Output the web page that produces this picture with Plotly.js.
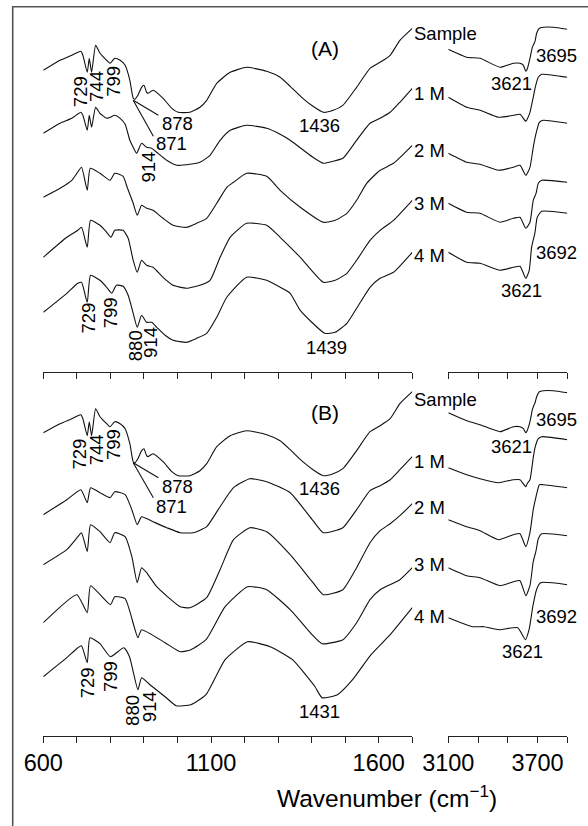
<!DOCTYPE html>
<html><head><meta charset="utf-8">
<script src="https://cdn.plot.ly/plotly-3.0.1.min.js"></script>
<style>html,body{margin:0;padding:0;background:#fff}</style>
</head><body><div id="chart" style="width:588px;height:826px"></div>
<script>
// ---------------- DATA (wavenumber cm-1, transmittance a.u. incl. stacking) ----------------
const lowTicks = [600,700,800,900,1000,1100,1200,1300,1400,1500,1600,1700];
const lowLabelTicks = [600,1100,1600];
const highTicks = [3100,3300,3500,3700,3900];
const highLabelTicks = [3100,3700];
const seriesNames = ['Sample','1 M','2 M','3 M','4 M'];

// Panel A
const A_Sample_lowX = [600,650,685,703,712,718,731,737,744,756,769,789,799,813,829,844,858,868,873,882,893,900,908,912,927,957,983,1002,1037,1067,1087,1117,1157,1206,1266,1306,1336,1370,1404,1435,1464,1493,1534,1574,1604,1634,1663,1700];
const A_Sample_lowY = [302,312,317,320,321,317,300,314,300,327,319,312,309,314,312,307,292,274,273,277,285,287,280,279,282,274,264,260,260,265,272,289,300,305,301,295,286,275,266,260,262,267,285,304,310,317,332,344];
const A_Sample_highX = [3100,3224,3313,3448,3537,3582,3605,3621,3630,3649,3665,3677,3683,3694,3712,3739,3806,3900];
const A_Sample_highY = [323,315,314,305,309,309,307,301,303,314,325,329,331,339,344,345,345,343];

const A_1M_lowX = [600,650,685,712,718,731,737,744,756,769,789,799,813,829,844,858,868,878,893,908,923,938,968,998,1037,1067,1097,1127,1157,1206,1266,1306,1336,1404,1435,1464,1493,1534,1574,1604,1634,1663,1700];
const A_1M_lowY = [239,249,254,260,257,242,257,245,265,259,254,255,257,254,248,232,225,219,229,225,224,220,212,207,208,210,217,232,242,247,244,238,232,215,209,211,214,232,249,254,260,270,284];
const A_1M_highX = [3100,3224,3313,3437,3537,3582,3621,3630,3649,3671,3683,3705,3728,3900];
const A_1M_highY = [275,265,262,255,257,258,251,253,260,275,284,295,298,295];

const A_2M_lowX = [600,650,685,700,714,731,740,769,799,813,838,850,868,880,893,908,927,957,987,1027,1057,1087,1117,1147,1167,1206,1266,1306,1366,1435,1470,1505,1534,1564,1604,1644,1700];
const A_2M_lowY = [175,184,192,199,205,182,204,199,192,199,196,185,169,157,167,164,162,154,147,145,149,154,169,185,190,199,196,182,165,150,152,159,172,189,202,209,227];
const A_2M_highX = [3100,3224,3313,3437,3537,3582,3621,3649,3671,3690,3712,3739,3900];
const A_2M_highY = [219,210,208,202,205,207,197,205,225,239,250,252,249];

const A_3M_lowX = [600,670,703,714,731,741,769,789,802,813,838,853,868,880,893,908,927,957,987,1027,1067,1097,1127,1157,1206,1266,1306,1366,1435,1470,1505,1534,1574,1604,1644,1700];
const A_3M_lowY = [115,135,142,145,125,152,147,140,135,142,142,134,112,100,112,107,105,95,87,84,87,92,115,135,149,147,135,115,90,92,99,112,132,142,152,172];
const A_3M_highX = [3100,3224,3313,3448,3537,3582,3621,3649,3671,3690,3705,3728,3900];
const A_3M_highY = [169,160,159,150,154,155,144,150,172,179,189,192,190];

const A_4M_lowX = [600,670,703,714,731,741,769,789,804,818,838,853,868,880,893,908,923,938,963,987,1027,1057,1087,1117,1147,1206,1266,1306,1336,1366,1439,1470,1505,1534,1574,1604,1644,1700];
const A_4M_lowY = [60,79,89,90,70,97,92,85,79,87,86,77,59,45,57,50,50,45,37,32,30,34,39,55,75,95,92,85,79,62,39,40,49,64,85,94,100,120];
const A_4M_highX = [3100,3224,3313,3448,3537,3582,3621,3644,3660,3683,3698,3728,3900];
const A_4M_highY = [120,110,109,102,105,106,94,102,125,140,155,161,159];

// Panel B
const B_Sample_lowX = [600,650,685,703,712,718,731,737,744,756,769,789,799,813,829,844,858,868,873,882,893,900,908,912,927,957,983,1002,1037,1067,1087,1117,1157,1206,1266,1306,1336,1370,1404,1435,1464,1493,1534,1574,1604,1634,1663,1700];
const B_Sample_lowY = [303,312,317,320,321,317,300,314,300,327,319,312,309,314,312,307,292,274,273,277,285,287,280,279,282,274,264,260,260,265,272,289,300,305,301,295,286,275,266,260,262,267,285,304,310,317,332,344];
const B_Sample_highX = [3100,3224,3313,3448,3537,3582,3605,3621,3630,3649,3665,3677,3683,3694,3712,3739,3806,3900];
const B_Sample_highY = [323,315,311,304,309,309,307,303,305,314,326,331,333,339,344,345,345,343];

const B_1M_lowX = [600,670,712,731,741,769,799,813,844,864,880,893,927,968,1008,1047,1087,1127,1167,1216,1266,1336,1404,1435,1493,1534,1574,1604,1634,1663,1700];
const B_1M_lowY = [221,236,246,233,248,243,238,244,241,226,211,219,214,208,203,203,209,229,248,257,254,243,215,203,208,226,245,250,256,266,279];
const B_1M_highX = [3100,3224,3313,3437,3537,3582,3621,3630,3649,3671,3683,3705,3728,3900];
const B_1M_highY = [268,261,257,253,256,256,249,252,256,278,288,297,299,296];

const B_2M_lowX = [600,670,703,714,731,741,769,799,813,844,864,880,893,908,938,1008,1037,1087,1127,1167,1216,1266,1336,1404,1435,1493,1534,1574,1604,1634,1663,1700];
const B_2M_lowY = [171,186,199,203,184,211,204,193,203,199,179,153,168,163,149,129,128,138,166,196,208,204,181,153,141,146,168,193,205,212,220,232];
const B_2M_highX = [3100,3224,3313,3437,3537,3582,3621,3649,3671,3690,3712,3739,3900];
const B_2M_highY = [216,209,205,196,201,202,189,203,226,239,251,251,248];

const B_3M_lowX = [600,700,731,741,800,813,844,882,893,963,1008,1040,1085,1142,1209,1266,1336,1404,1431,1493,1534,1574,1604,1663,1700];
const B_3M_lowY = [113,141,123,150,131,139,137,98,106,93,84,86,96,129,149,146,126,100,92,96,113,136,146,156,168];
const B_3M_highX = [3100,3224,3313,3448,3537,3582,3621,3649,3671,3690,3705,3728,3900];
const B_3M_highY = [168,160,158,150,154,155,140,150,174,185,197,202,200];

const B_4M_lowX = [600,670,703,714,731,739,769,800,840,857,882,893,918,963,996,1040,1085,1142,1209,1276,1343,1410,1431,1477,1522,1577,1634,1700];
const B_4M_lowY = [59,78,88,90,73,98,92,79,88,79,46,58,51,39,30,31,41,76,94,89,76,49,38,41,56,81,101,128];
const B_4M_highX = [3100,3265,3340,3441,3567,3618,3643,3668,3693,3720,3900];
const B_4M_highY = [118,109,109,106,108,96,106,129,146,153,151];

// ---------------- BUILD ----------------
const FONT = 'Liberation Sans, Arial, Helvetica, sans-serif';
const W = 588, H = 826;
const fx = p => p / W, fy = p => 1 - p / H;

const traces = [];
function add(x, y, xa, ya) {
  traces.push({x: x, y: y, xaxis: xa, yaxis: ya, type: 'scatter', mode: 'lines',
    line: {color: '#111', width: 1.1, shape: 'spline', smoothing: 0.5},
    hoverinfo: 'skip', showlegend: false});
}
const panelA = [[A_Sample_lowX,A_Sample_lowY,A_Sample_highX,A_Sample_highY],[A_1M_lowX,A_1M_lowY,A_1M_highX,A_1M_highY],[A_2M_lowX,A_2M_lowY,A_2M_highX,A_2M_highY],[A_3M_lowX,A_3M_lowY,A_3M_highX,A_3M_highY],[A_4M_lowX,A_4M_lowY,A_4M_highX,A_4M_highY]];
const panelB = [[B_Sample_lowX,B_Sample_lowY,B_Sample_highX,B_Sample_highY],[B_1M_lowX,B_1M_lowY,B_1M_highX,B_1M_highY],[B_2M_lowX,B_2M_lowY,B_2M_highX,B_2M_highY],[B_3M_lowX,B_3M_lowY,B_3M_highX,B_3M_highY],[B_4M_lowX,B_4M_lowY,B_4M_highX,B_4M_highY]];
panelA.forEach(s => { add(s[0], s[1], 'x', 'y'); add(s[2], s[3], 'x2', 'y'); });
panelB.forEach(s => { add(s[0], s[1], 'x3', 'y2'); add(s[2], s[3], 'x4', 'y2'); });

const axBase = {showline: true, linecolor: '#222', linewidth: 1, ticks: 'outside', ticklen: 6,
  tickwidth: 1, tickcolor: '#222', showgrid: false, zeroline: false, fixedrange: true,
  tickfont: {family: FONT, size: 23.5, color: '#000'}};
const minorOf = vals => ({tickmode: 'array', tickvals: vals, ticks: 'outside', ticklen: 6, tickwidth: 1, tickcolor: '#222', showgrid: false});
const lowDom = [fx(43.3), fx(412.3)], highDom = [fx(448.3), fx(567.3)];
const yHidden = {visible: false, showgrid: false, zeroline: false, fixedrange: true};

const layout = {
  width: W, height: H, margin: {l: 0, r: 0, t: 0, b: 0},
  paper_bgcolor: '#fff', plot_bgcolor: 'rgba(0,0,0,0)', showlegend: false,
  font: {family: FONT, color: '#000'},
  xaxis:  Object.assign({}, axBase, {domain: lowDom,  range: [600,1700],  anchor: 'y',  tickmode: 'array', tickvals: lowTicks,  showticklabels: false}),
  xaxis2: Object.assign({}, axBase, {domain: highDom, range: [3100,3900], anchor: 'y',  tickmode: 'array', tickvals: highTicks, showticklabels: false}),
  xaxis3: Object.assign({}, axBase, {domain: lowDom,  range: [600,1700],  anchor: 'y2', tickmode: 'array', tickvals: lowLabelTicks,
            minor: minorOf(lowTicks.filter(v => lowLabelTicks.indexOf(v) < 0))}),
  xaxis4: Object.assign({}, axBase, {domain: highDom, range: [3100,3900], anchor: 'y2', tickmode: 'array', tickvals: highLabelTicks,
            minor: minorOf(highTicks.filter(v => highLabelTicks.indexOf(v) < 0))}),
  yaxis:  Object.assign({}, yHidden, {domain: [fy(372.3), fy(7.3)],  range: [0, 365]}),
  yaxis2: Object.assign({}, yHidden, {domain: [fy(735.7), fy(375.7)], range: [0, 360]}),
  shapes: [
    {type: 'rect', xref: 'paper', yref: 'paper', x0: fx(12.7), x1: 1.02, y0: -0.02, y1: fy(6.8), line: {color: '#555', width: 1.6}},
    {type: 'line', xref: 'x', yref: 'y', x0: 868, y0: 272, x1: 943, y1: 257, line: {color: '#111', width: 1.1}},
    {type: 'line', xref: 'x', yref: 'y', x0: 868, y0: 272, x1: 928, y1: 236, line: {color: '#111', width: 1.1}},
    {type: 'line', xref: 'x3', yref: 'y2', x0: 868, y0: 273, x1: 943, y1: 258, line: {color: '#111', width: 1.1}},
    {type: 'line', xref: 'x3', yref: 'y2', x0: 868, y0: 273, x1: 928, y1: 238, line: {color: '#111', width: 1.1}}
  ],
  annotations: []
};

function ann(text, x, y, xr, yr, o) {
  layout.annotations.push(Object.assign({text: text, x: x, y: y, xref: xr, yref: yr, showarrow: false,
    font: {family: FONT, size: 18.5, color: '#000'}, xanchor: 'center', yanchor: 'middle'}, o || {}));
}
const rot = {textangle: -90};
const lft = {xanchor: 'left'};
// Panel A labels
ann('(A)', 1440, 324, 'x', 'y', {font: {family: FONT, size: 21, color: '#000'}});
ann('729', 709, 281, 'x', 'y', rot);
ann('744', 759, 286, 'x', 'y', rot);
ann('799', 809, 291, 'x', 'y', rot);
ann('878', 1001, 249, 'x', 'y');
ann('871', 981, 229, 'x', 'y');
ann('914', 913, 205, 'x', 'y', rot);
ann('1436', 1422, 247, 'x', 'y');
const namesYA = [339, 279, 222, 169, 117];
seriesNames.forEach((n, i) => ann(n, 1700, namesYA[i], 'x', 'y', lft));
ann('3695', 3826, 317, 'x2', 'y');
ann('3621', 3526, 289, 'x2', 'y');
ann('3692', 3829, 120, 'x2', 'y');
ann('3621', 3593, 82, 'x2', 'y');
ann('1439', 1445, 25, 'x', 'y');
ann('729', 734, 54, 'x', 'y', rot);
ann('799', 799, 59, 'x', 'y', rot);
ann('880', 873, 27, 'x', 'y', rot);
ann('914', 920, 30, 'x', 'y', rot);
// Panel B labels
ann('(B)', 1440, 323, 'x3', 'y2', {font: {family: FONT, size: 21, color: '#000'}});
ann('729', 709, 282, 'x3', 'y2', rot);
ann('744', 759, 286, 'x3', 'y2', rot);
ann('799', 809, 291, 'x3', 'y2', rot);
ann('878', 1001, 249, 'x3', 'y2');
ann('871', 981, 229, 'x3', 'y2');
ann('1436', 1422, 247, 'x3', 'y2');
const namesYB = [336, 274, 228, 171, 119];
seriesNames.forEach((n, i) => ann(n, 1700, namesYB[i], 'x3', 'y2', lft));
ann('3695', 3826, 316, 'x4', 'y2');
ann('3621', 3526, 289, 'x4', 'y2');
ann('3692', 3829, 119, 'x4', 'y2');
ann('3621', 3600, 84, 'x4', 'y2');
ann('1431', 1424, 24, 'x3', 'y2');
ann('729', 732, 53, 'x3', 'y2', rot);
ann('799', 800, 59, 'x3', 'y2', rot);
ann('880', 868, 25, 'x3', 'y2', rot);
ann('914', 917, 29, 'x3', 'y2', rot);
// axis title
ann('Wavenumber (cm<sup>\u22121</sup>)', fx(387), fy(796), 'paper', 'paper', {font: {family: FONT, size: 24.5, color: '#000'}});

Plotly.newPlot('chart', traces, layout, {staticPlot: true, displayModeBar: false});
</script>
</body></html>
